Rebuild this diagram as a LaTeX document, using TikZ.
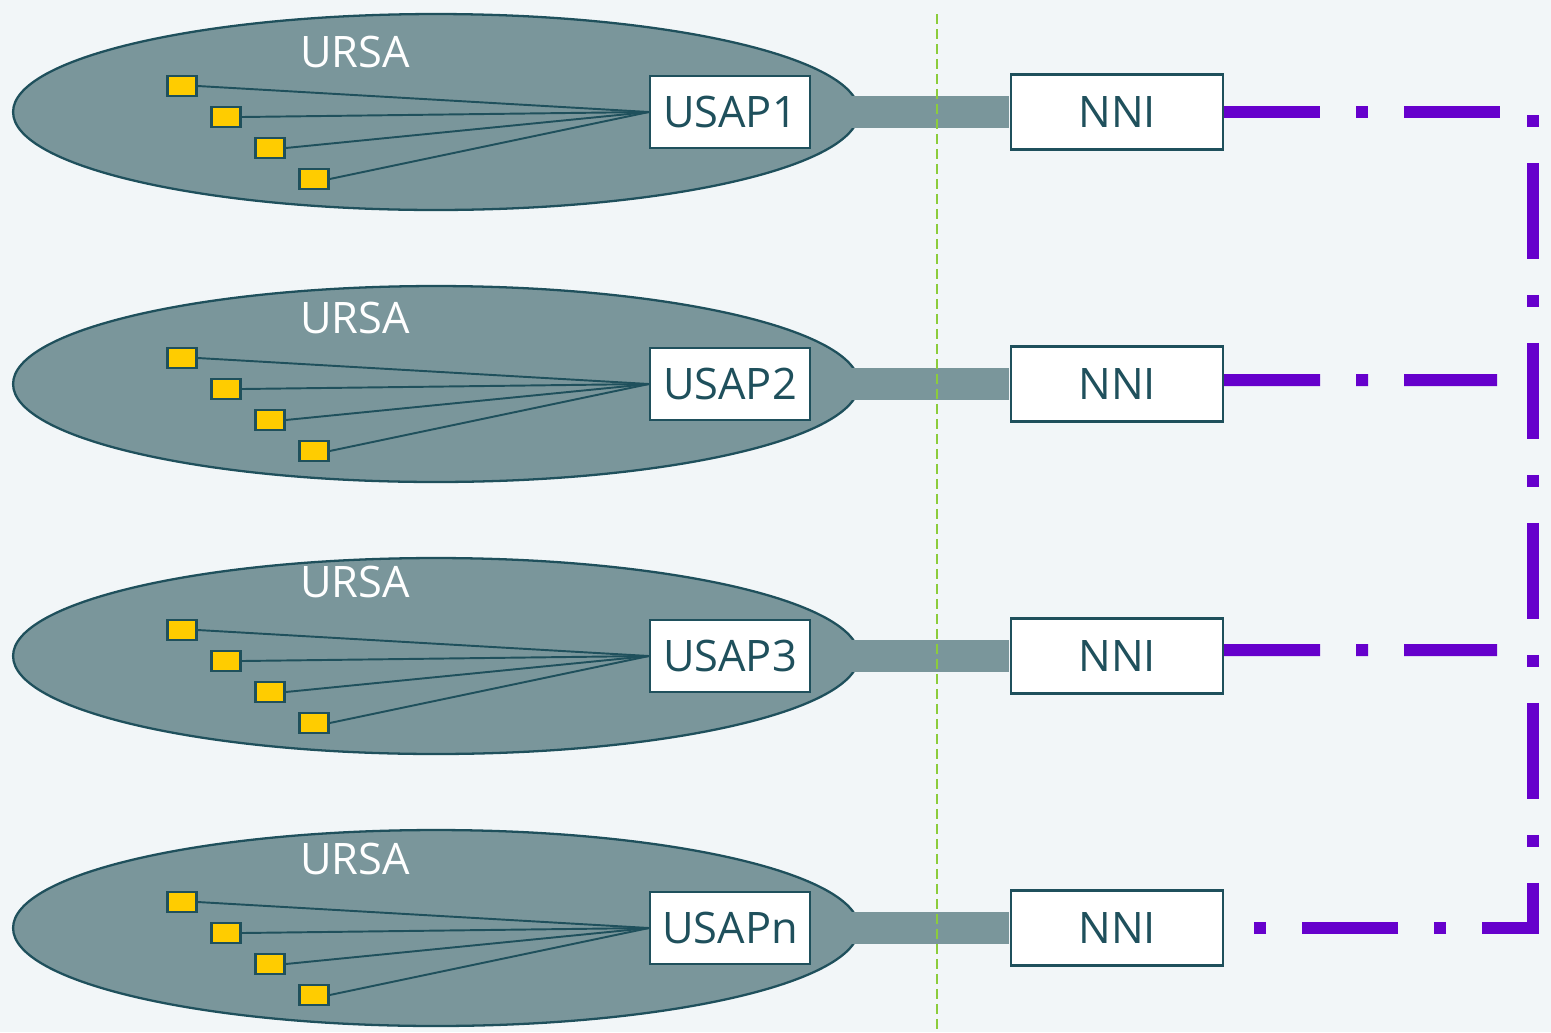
\documentclass[tikz,border=0pt]{standalone}
\usepackage{fontspec}
\setmainfont{Open Sans}
\usetikzlibrary{shapes.geometric,positioning}
\definecolor{ursafill}{HTML}{7A969B}
\definecolor{ursaline}{HTML}{1F505C}
\definecolor{portyellow}{HTML}{FFCC00}
\definecolor{nnipurple}{HTML}{6600CC}
\definecolor{edgegreen}{HTML}{8CCC3C}
\definecolor{paper}{HTML}{F2F6F8}

\begin{document}
\begin{tikzpicture}[x=0.02cm,y=-0.02cm,node distance=3.98cm,
                    font=\fontsize{24.7}{30}\selectfont]
  \tikzstyle{ursa}=[ellipse,draw=ursaline,fill=ursafill,line width=1.3pt,
                    minimum width=16.92cm,minimum height=3.92cm,inner sep=0pt]
  \tikzstyle{ursatext}=[text=white,inner sep=0pt]
  \tikzstyle{port}=[draw=ursaline,fill=portyellow,line width=1.4pt,
                    minimum width=0.58cm,minimum height=0.4cm,inner sep=0pt]
  \tikzstyle{usap}=[draw=ursaline,fill=white,text=ursaline,line width=1.2pt,
                    minimum width=3.2cm,minimum height=1.44cm,inner sep=0pt]
  \tikzstyle{nni}=[usap,minimum width=4.24cm,minimum height=1.5cm]
  \tikzstyle{wire}=[draw=ursaline,line width=1.1pt]
  \tikzstyle{trunk}=[draw=ursafill,line width=0.64cm,shorten <=0.6pt,shorten >=0.6pt]
  \tikzstyle{ring}=[draw=nnipurple,line width=0.24cm,
                    dash pattern=on 1.92cm off 0.72cm on 0.24cm off 0.72cm]

  \fill[paper] (0,0) rectangle (1551,1032);

  \foreach \r/\y/\t/\dy in {1/112/1/-60,2/384/2/-66,3/656/3/-74,4/928/n/-69}{
    \node[ursa]              (ursa\r) at (436,\y)          {};
    \node[ursatext]          (name\r) at ({355},{\y+\dy})  {URSA};
    \node[usap]              (usap\r) at (730,\y)          {USAP\t};
    \node[nni,right=of usap\r] (nni\r)                     {NNI};
    \foreach \p/\dx/\py in {a/-254/-26,b/-210/5,c/-166/36,d/-122/67}{
      \node[port] (port\r\p) at ({436+\dx},{\y+\py}) {};
      \draw[wire] (port\r\p.east) -- (usap\r.west);
    }
    \draw[trunk] (usap\r.east) -- (nni\r.west);
  }

  % border between the two sides
  \coordinate (bordertop) at (937,14);
  \coordinate (borderbot) at (937,1032);
  \draw[edgegreen,line width=0.8pt,dash pattern=on 0.2cm off 0.1cm]
    (bordertop) -- (borderbot);

  % links between the NNI
  \coordinate (ringtop) at (1533,112);
  \coordinate (ringbot) at (1533,928);
  \coordinate (ringend2) at (1497,380);
  \coordinate (ringend3) at (1497,650);
  \draw[ring] (nni1.east) -- (ringtop) -- (ringbot) -- (nni4.east);
  \draw[ring] ([yshift=0.08cm]nni2.east) -- (ringend2);
  \draw[ring] ([yshift=0.12cm]nni3.east) -- (ringend3);
\end{tikzpicture}
\end{document}
